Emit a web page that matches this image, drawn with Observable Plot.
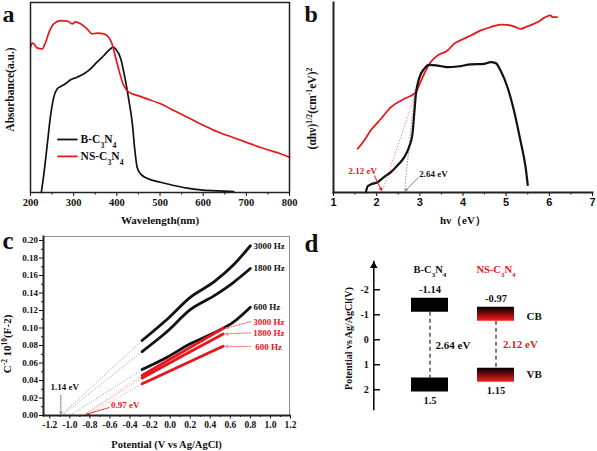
<!DOCTYPE html>
<html><head><meta charset="utf-8">
<script src="https://cdn.jsdelivr.net/npm/d3@7"></script>
<script src="https://cdn.jsdelivr.net/npm/@observablehq/plot@0.6"></script>
<style>
html,body{margin:0;padding:0;background:#fff;}
#wrap{position:relative;width:597px;height:451px;overflow:hidden;background:#fff;}
#wrap svg{position:absolute;overflow:visible;}
</style></head><body><div id="wrap"></div>
<script>
// ===== Panel a: UV-vis absorbance =====
const aWaveB = [225,231,239,246,254,262,270,281,293,308,324,339,354,370,385,391,397,409,420,428,436,441,447,455,470,501,532,563,594,632,671];
const aAbsB  = [0,0.098,0.256,0.396,0.502,0.546,0.558,0.572,0.593,0.607,0.625,0.651,0.686,0.721,0.756,0.765,0.756,0.704,0.589,0.484,0.361,0.239,0.133,0.098,0.075,0.054,0.037,0.023,0.014,0.009,0.005];
const aWaveNS = [200,204,208,215,227,235,243,254,270,285,297,304,316,331,343,354,370,382,389,397,405,416,428,447,470,501,532,563,594,632,671,710,748,779,800];
const aAbsNS  = [0.765,0.786,0.782,0.761,0.756,0.791,0.844,0.888,0.905,0.902,0.888,0.898,0.888,0.861,0.835,0.839,0.835,0.814,0.782,0.712,0.642,0.563,0.528,0.511,0.493,0.467,0.432,0.396,0.361,0.321,0.288,0.256,0.226,0.204,0.186];
const aTicks = [200,300,400,500,600,700,800];
const aMinor = [250,350,450,550,650,750];
const sampleNames = ["B-C_{3}N_{4}", "NS-C_{3}N_{4}"];

// ===== Panel b: Tauc plot =====
const bHvB  = [1.75,1.79,1.86,2.02,2.17,2.33,2.48,2.64,2.75,2.83,2.87,2.91,2.98,3.10,3.21,3.41,3.64,3.87,4.18,4.49,4.64,4.76,4.87,5.03,5.18,5.33,5.45,5.50];
const bValB = [0,0.032,0.042,0.054,0.081,0.107,0.142,0.186,0.239,0.309,0.414,0.519,0.598,0.651,0.672,0.668,0.660,0.663,0.674,0.677,0.686,0.681,0.642,0.554,0.432,0.274,0.133,0.040];
const bHvNS  = [1.56,1.71,1.86,2.10,2.33,2.64,2.91,2.98,3.10,3.25,3.41,3.64,3.79,4.02,4.18,4.41,4.64,4.87,5.03,5.18,5.33,5.49,5.72,5.91,6.03,6.07,6.18];
const bValNS = [0.230,0.274,0.326,0.388,0.449,0.493,0.528,0.563,0.625,0.686,0.721,0.747,0.782,0.809,0.826,0.853,0.870,0.884,0.882,0.874,0.861,0.874,0.896,0.923,0.932,0.923,0.923];
const bGaps = [2.64, 2.12];            // band gaps (eV): B, NS
const bTangentTopHv = [2.89, 2.94];    // tangent lines end (hv)
const bTangentTopVal = [0.547, 0.547];
const bTicks = [1,2,3,4,5,6,7];
const bMinor = [1.5,2.5,3.5,4.5,5.5,6.5];

// ===== Panel c: Mott-Schottky =====
const cFreqs = ["3000 Hz", "1800 Hz", "600 Hz"];
const cPotB = [-0.28,-0.03,0.20,0.44,0.63,0.80];
const cB3000 = [0.0857,0.110,0.135,0.153,0.172,0.194];
const cB1800 = [0.0731,0.096,0.121,0.137,0.152,0.168];
const cB600  = [0.0526,0.0667,0.0819,0.0945,0.1067,0.1238];
const cPotNS = [-0.28,0.13,0.53];
const cNS3000 = [0.0457,0.0731,0.0998];
const cNS1800 = [0.0427,0.0686,0.0933];
const cNS600  = [0.0362,0.0580,0.0792];
const cInterceptB  = [-1.09,-1.08,-1.00];
const cInterceptNS = [-0.87,-0.86,-0.84];
const cFlatLabels = ["1.14 eV", "0.97 eV"];
const cXTicks = d3.range(-12, 13, 2).map(v => v / 10);
const cXMinor = d3.range(-11, 13, 2).map(v => v / 10);
const cYTicks = d3.range(0, 21, 2).map(v => v / 100);
const cYMinor = d3.range(1, 21, 2).map(v => v / 100);

// ===== Panel d: band structure =====
const dCbTop = [-1.66, -1.30];
const dCbBottom = [-1.10, -0.74];
const dVbTop = [1.53, 1.14];
const dVbBottom = [2.09, 1.70];
const dCbLabels = ["-1.14", "-0.97"];
const dVbLabels = ["1.5", "1.15"];
const dGapLabels = ["2.64 eV", "2.12 eV"];
const dTicks = [-2,-1,0,1,2];

// ===== styling =====
const RED = "#e8161b";
const BLACK = "#111";
const SERIF = "'Liberation Serif','Times New Roman',serif";
const SANS = "'Liberation Sans',Arial,sans-serif";
function baseStyle(fs) {
  return {fontFamily: SERIF, fontWeight: "bold", fontSize: fs, background: "transparent", color: "#111", overflow: "visible"};
}
function richify(svg) {
  svg.querySelectorAll("text").forEach(t => {
    if (t.querySelector("tspan")) return;
    const s = t.textContent;
    if (!/[\^_]\{/.test(s)) return;
    t.textContent = "";
    const re = /([\^_])\{([^}]*)\}|([^\^_]+|[\^_])/g;
    let m;
    while ((m = re.exec(s))) {
      const ts = document.createElementNS("http://www.w3.org/2000/svg", "tspan");
      if (m[1]) {
        ts.textContent = m[2];
        ts.setAttribute("font-size", "68%");
        ts.setAttribute("baseline-shift", m[1] === "^" ? "super" : "sub");
      } else ts.textContent = m[3];
      t.appendChild(ts);
    }
  });
}
const wrap = document.getElementById("wrap");
function place(svg, left, top) {
  svg.style.left = left + "px";
  svg.style.top = top + "px";
  richify(svg);
  wrap.appendChild(svg);
}

// ----- Panel a -----
const aRowsB = aWaveB.map((x, i) => ({x, y: aAbsB[i]}));
const aRowsNS = aWaveNS.map((x, i) => ({x, y: aAbsNS[i]}));
const aLegend = sampleNames.map((name, i) => ({name, y: [0.279, 0.19][i]}));
const plotA = Plot.plot({
  width: 297, height: 225,
  marginLeft: 30, marginRight: 8, marginTop: 2, marginBottom: 33,
  x: {domain: [200, 800]},
  y: {domain: [0, 1], axis: null},
  style: baseStyle("10.5px"),
  marks: [
    Plot.axisX({ticks: aTicks, tickSize: 4, tickPadding: 2, tickFormat: d => String(d), label: null}),
    Plot.axisX({ticks: aMinor, tickSize: 2.5, tickFormat: () => "", label: null}),
    Plot.line(aRowsB, {x: "x", y: "y", stroke: BLACK, strokeWidth: 1.7, curve: "monotone-x"}),
    Plot.line(aRowsNS, {x: "x", y: "y", stroke: RED, strokeWidth: 1.7, curve: "monotone-x"}),
    Plot.link(aLegend.slice(0, 1), {x1: 262, x2: 309, y1: "y", y2: "y", stroke: BLACK, strokeWidth: 1.8}),
    Plot.link(aLegend.slice(1), {x1: 262, x2: 309, y1: "y", y2: "y", stroke: RED, strokeWidth: 1.8}),
    Plot.text(aLegend, {x: 316, y: "y", text: "name", textAnchor: "start", fontSize: 11.5}),
    Plot.frame({stroke: "#222", strokeWidth: 1.5}),
    Plot.text(["Wavelength(nm)"], {text: d => d, frameAnchor: "bottom", textAnchor: "middle", lineAnchor: "bottom", dy: 31, fontSize: 11}),
    Plot.text(["Absorbance(a.u.)"], {text: d => d, frameAnchor: "left", textAnchor: "middle", lineAnchor: "middle", rotate: -90, dx: -20, dy: -8, fontSize: 11.5}),
    Plot.text(["a"], {text: d => d, frameAnchor: "top-left", textAnchor: "start", lineAnchor: "bottom", dx: -28, dy: 19, fontSize: 24})
  ]
});
place(plotA, 0, 0);

// ----- Panel b -----
const bRowsB = bHvB.map((x, i) => ({x, y: bValB[i]}));
const bRowsNS = bHvNS.map((x, i) => ({x, y: bValNS[i]}));
const plotB = Plot.plot({
  width: 300, height: 225,
  marginLeft: 36, marginRight: 5, marginTop: 2, marginBottom: 33,
  x: {domain: [1, 7]},
  y: {domain: [0, 1], axis: null},
  style: baseStyle("10.5px"),
  marks: [
    Plot.axisX({ticks: bTicks, tickSize: 4, tickPadding: 2, tickFormat: d => String(d), label: null, fontFamily: SANS, fontSize: 11}),
    Plot.axisX({ticks: bMinor, tickSize: 2.5, tickFormat: () => "", label: null}),
    Plot.link([0], {x1: () => bGaps[1], y1: 0, x2: () => bTangentTopHv[1], y2: () => bTangentTopVal[1], stroke: "#f08080", strokeWidth: 0.9, strokeDasharray: "1.5,1.5"}),
    Plot.link([0], {x1: () => bGaps[0], y1: 0, x2: () => bTangentTopHv[0], y2: () => bTangentTopVal[0], stroke: "#888", strokeWidth: 0.9, strokeDasharray: "1.5,1.5"}),
    Plot.line(bRowsNS, {x: "x", y: "y", stroke: RED, strokeWidth: 1.8, curve: "monotone-x"}),
    Plot.line(bRowsB, {x: "x", y: "y", stroke: BLACK, strokeWidth: 2.2, curve: "monotone-x"}),
    Plot.arrow([bGaps[1]], {x1: d => d - 0.17, y1: 0.088, x2: d => d - 0.01, y2: 0.012, stroke: RED, strokeWidth: 1, headLength: 4}),
    Plot.arrow([bGaps[0]], {x1: d => d + 0.32, y1: 0.078, x2: d => d + 0.03, y2: 0.01, stroke: "#777", strokeWidth: 0.9, headLength: 4}),
    Plot.text([bGaps[1]], {x: d => d, y: 0, text: d => d.toFixed(2) + " eV", fill: RED, textAnchor: "middle", dx: -19, dy: -21, fontSize: 9}),
    Plot.text([bGaps[0]], {x: d => d, y: 0, text: d => d.toFixed(2) + " eV", textAnchor: "start", dx: 15, dy: -18, fontSize: 9}),
    Plot.frame({anchor: "left", stroke: "#222", strokeWidth: 2}),
    Plot.frame({anchor: "bottom", stroke: "#222", strokeWidth: 2}),
    Plot.text(["hν（eV）"], {text: d => d, frameAnchor: "bottom", textAnchor: "middle", lineAnchor: "bottom", dy: 31, fontSize: 11}),
    Plot.text(["(αhν)^{1/2}(cm^{-1}eV)^{2}"], {text: d => d, frameAnchor: "left", textAnchor: "middle", lineAnchor: "middle", rotate: -90, dx: -21, dy: 11, fontSize: 11.5}),
    Plot.text(["b"], {text: d => d, frameAnchor: "top-left", textAnchor: "start", lineAnchor: "bottom", dx: -29, dy: 19, fontSize: 24})
  ]
});
place(plotB, 297, 0);

// ----- Panel c -----
const cBlackVals = [cB3000, cB1800, cB600];
const cRedVals = [cNS3000, cNS1800, cNS600];
const cBlackRows = cFreqs.flatMap((f, k) => cPotB.map((x, i) => ({f, x, y: cBlackVals[k][i]})));
const cRedRows = cFreqs.flatMap((f, k) => cPotNS.map((x, i) => ({f, x, y: cRedVals[k][i]})));
const cBlackEnds = cFreqs.map((f, k) => ({f, x: cPotB[cPotB.length - 1], y: cBlackVals[k][cPotB.length - 1]}));
const cRedEnds = cFreqs.map((f, k) => ({f, x: cPotNS[cPotNS.length - 1], y: cRedVals[k][cPotNS.length - 1]}));
const cBlackExt = cFreqs.map((f, k) => ({x1: cInterceptB[k], x2: cPotB[0], y2: cBlackVals[k][0]}));
const cRedExt = cFreqs.map((f, k) => ({x1: cInterceptNS[k], x2: cPotNS[0], y2: cRedVals[k][0]}));
const cRedLabelDy = [-6.5, -1, 0.5];
const plotC = Plot.plot({
  width: 297, height: 226,
  marginLeft: 43, marginRight: 8, marginTop: 11, marginBottom: 36,
  x: {domain: [-1.263, 1.19]},
  y: {domain: [0, 0.2046]},
  style: baseStyle("9px"),
  marks: [
    Plot.frame({stroke: "#777", strokeWidth: 0.8}),
    Plot.axisX({ticks: cXTicks, tickSize: 3.5, tickPadding: 2, tickFormat: d => d.toFixed(1), label: null, fontSize: 9.5}),
    Plot.axisX({ticks: cXMinor, tickSize: 2, tickFormat: () => "", label: null}),
    Plot.axisY({ticks: cYTicks, tickSize: 4, tickPadding: 1.5, tickFormat: d => d.toFixed(2), label: null, fontSize: 9}),
    Plot.axisY({ticks: cYMinor, tickSize: 2, tickFormat: () => "", label: null}),
    Plot.link(cBlackExt, {x1: "x1", y1: 0, x2: "x2", y2: "y2", stroke: "#8a8a8a", strokeWidth: 0.8, strokeDasharray: "1.2,1.6"}),
    Plot.link(cRedExt, {x1: "x1", y1: 0, x2: "x2", y2: "y2", stroke: "#f08a8a", strokeWidth: 0.8, strokeDasharray: "1.2,1.6"}),
    Plot.line(cBlackRows, {x: "x", y: "y", z: "f", stroke: BLACK, strokeWidth: 2.8, curve: "monotone-x"}),
    Plot.line(cRedRows, {x: "x", y: "y", z: "f", stroke: RED, strokeWidth: 2.8, curve: "monotone-x"}),
    Plot.text(cBlackEnds, {x: "x", y: "y", text: "f", textAnchor: "start", dx: 3, fontSize: 9}),
    Plot.text(cRedEnds.slice(0, 1), {x: "x", y: "y", text: "f", textAnchor: "start", dx: 30, dy: cRedLabelDy[0], fill: RED, fontSize: 9}),
    Plot.text(cRedEnds.slice(1, 2), {x: "x", y: "y", text: "f", textAnchor: "start", dx: 30, dy: cRedLabelDy[1], fill: RED, fontSize: 9}),
    Plot.text(cRedEnds.slice(2), {x: "x", y: "y", text: "f", textAnchor: "start", dx: 32, dy: cRedLabelDy[2], fill: RED, fontSize: 9}),
    Plot.arrow(cRedEnds, {x1: d => d.x + 0.27, y1: (d, i) => d.y - cRedLabelDy[i] / 875, x2: d => d.x + 0.025, y2: "y", stroke: "#ef6b6b", strokeWidth: 1, strokeDasharray: "1.5,1.2", headLength: 4}),
    Plot.arrow([cInterceptB[1]], {x1: d => d - 0.01, y1: 0.023, x2: d => d - 0.01, y2: 0.002, stroke: "#666", strokeWidth: 0.9, strokeDasharray: "1.5,1.2", headLength: 3.5}),
    Plot.text([cFlatLabels[0]], {x: cInterceptB[1] + 0.03, y: 0.032, text: d => d, fontSize: 9}),
    Plot.arrow([cInterceptNS[2]], {x1: d => d + 0.23, y1: 0.009, x2: d => d + 0.01, y2: 0.0015, stroke: RED, strokeWidth: 1, strokeDasharray: "1.5,1.2", headLength: 4}),
    Plot.text([cFlatLabels[1]], {x: cInterceptNS[2] + 0.25, y: 0.0114, text: d => d, textAnchor: "start", fill: RED, fontSize: 9}),
    Plot.frame({anchor: "left", stroke: "#222", strokeWidth: 2}),
    Plot.frame({anchor: "bottom", stroke: "#222", strokeWidth: 2}),
    Plot.text(["Potential (V vs Ag/AgCl)"], {text: d => d, frameAnchor: "bottom", textAnchor: "middle", lineAnchor: "bottom", dy: 32, fontSize: 10.5}),
    Plot.text(["C^{-2} 10^{10}(F-2)"], {text: d => d, frameAnchor: "left", textAnchor: "middle", lineAnchor: "middle", rotate: -90, dx: -36, dy: 18, fontSize: 11}),
    Plot.text(["c"], {text: d => d, frameAnchor: "top-left", textAnchor: "start", lineAnchor: "bottom", dx: -41, dy: 12, fontSize: 25})
  ]
});
place(plotC, 0, 225);

// ----- Panel d -----
const dRows = sampleNames.map((name, i) => ({
  name, cbTop: dCbTop[i], cbBottom: dCbBottom[i], vbTop: dVbTop[i], vbBottom: dVbBottom[i],
  cbLabel: dCbLabels[i], vbLabel: dVbLabels[i], gap: dGapLabels[i]
}));
const dB = dRows.slice(0, 1);
const dNS = dRows.slice(1);
const plotD = Plot.plot({
  width: 300, height: 226,
  marginLeft: 76.3, marginRight: 0, marginTop: 36, marginBottom: 42,
  x: {type: "band", domain: sampleNames, range: [100.3, 231.4], paddingInner: 0.437, paddingOuter: 0.2, axis: null},
  y: {domain: [-3.13, 2.79], reverse: true},
  style: baseStyle("10px"),
  marks: [
    Plot.frame({anchor: "left", stroke: "#111", strokeWidth: 1.6}),
    Plot.dot([0], {frameAnchor: "top-left", symbol: "triangle", r: 2.8, fill: "#000", dy: 4.2}),
    Plot.ruleY(dTicks, {y: d => d, insetRight: 300 - 76.3 - 6.7, stroke: "#111", strokeWidth: 1.5}),
    Plot.axisY({ticks: dTicks, tickSize: 0, tickPadding: 5, tickFormat: d => String(d), label: null, fontSize: 10}),
    Plot.ruleX(dRows, {x: "name", y1: "cbBottom", y2: "vbTop", stroke: "#111", strokeWidth: 1.1, strokeDasharray: "4,3"}),
    Plot.barY(dB, {x: "name", y1: "cbTop", y2: "cbBottom", fill: "#000"}),
    Plot.barY(dB, {x: "name", y1: "vbTop", y2: "vbBottom", fill: "#000"}),
    Plot.barY(dNS, {x: "name", y1: "cbTop", y2: "cbBottom", fill: "url(#nsGrad)"}),
    Plot.barY(dNS, {x: "name", y1: "vbTop", y2: "vbBottom", fill: "url(#nsGrad)"}),
    Plot.text(dB, {x: "name", frameAnchor: "top", text: "name", dy: 4, fontSize: 10.5}),
    Plot.text(dNS, {x: "name", frameAnchor: "top", text: "name", dy: 4, fontSize: 10.5, fill: RED}),
    Plot.text(dRows, {x: "name", y: "cbTop", text: "cbLabel", lineAnchor: "bottom", dy: -5, fontSize: 10.5}),
    Plot.text(dRows, {x: "name", y: "vbBottom", text: "vbLabel", lineAnchor: "top", dy: 4.5, fontSize: 10.5}),
    Plot.text(dB, {x: "name", y: d => (d.cbBottom + d.vbTop) / 2, text: "gap", textAnchor: "start", dx: 5.5, fontSize: 11}),
    Plot.text(dNS, {x: "name", y: d => (d.cbBottom + d.vbTop) / 2, text: "gap", textAnchor: "start", dx: 7, fontSize: 11, fill: RED}),
    Plot.text(dNS, {x: "name", y: d => (d.cbTop + d.cbBottom) / 2, text: () => "CB", textAnchor: "start", dx: 30.5, dy: 2, fontSize: 11}),
    Plot.text(dNS, {x: "name", y: d => (d.vbTop + d.vbBottom) / 2, text: () => "VB", textAnchor: "start", dx: 30.5, dy: -1, fontSize: 11}),
    Plot.text(["Potential vs Ag/AgCl(V)"], {text: d => d, frameAnchor: "left", textAnchor: "middle", lineAnchor: "middle", rotate: -90, dx: -25, dy: 3, fontSize: 10}),
    Plot.text(["d"], {text: d => d, frameAnchor: "top-left", textAnchor: "start", lineAnchor: "bottom", dx: -69.3, dy: -9.3, fontSize: 25})
  ]
});
d3.select(plotD).insert("defs", ":first-child").html(
  '<linearGradient id="nsGrad" x1="0" y1="0" x2="0" y2="1">' +
  '<stop offset="0" stop-color="#000"/><stop offset="0.3" stop-color="#4a0505"/>' +
  '<stop offset="1" stop-color="#ff1c1c"/></linearGradient>');
place(plotD, 297, 225);
</script></body></html>
